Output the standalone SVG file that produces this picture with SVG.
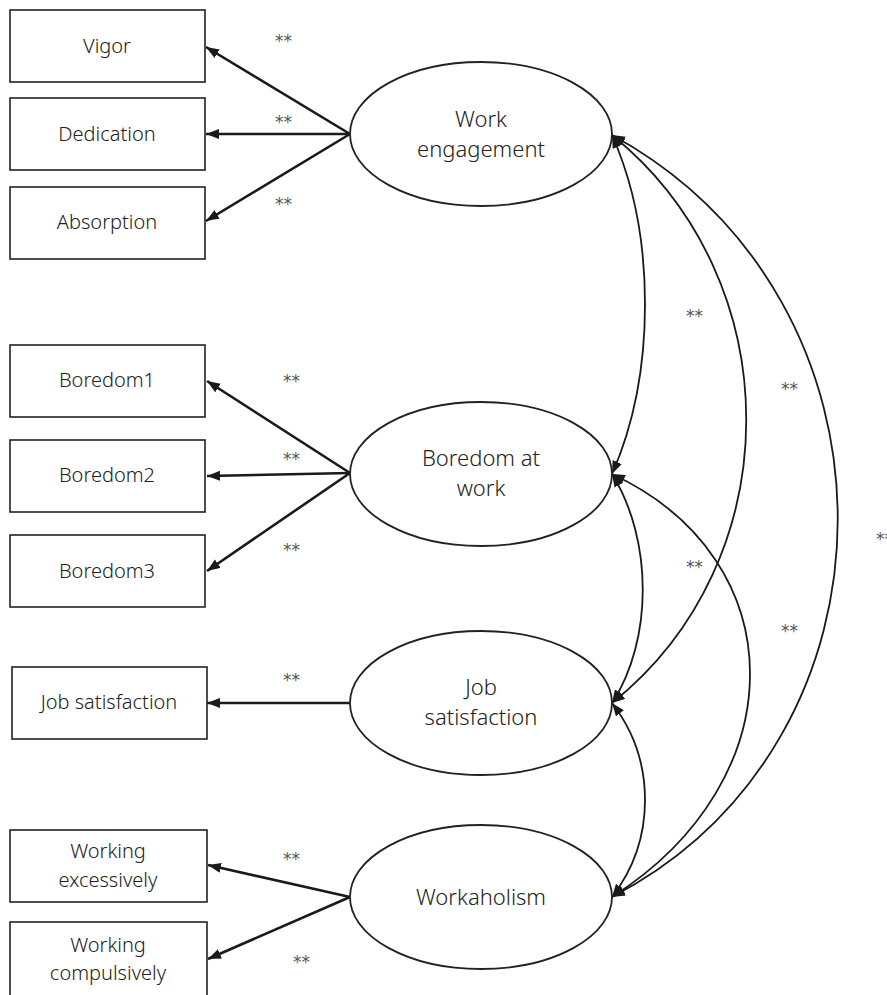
<svg xmlns="http://www.w3.org/2000/svg" width="887" height="995" viewBox="0 0 887 995">
<style>
.box{fill:#fff;stroke:#222;stroke-width:1.6}
.lat{fill:#fff;stroke:#222;stroke-width:1.8}
.t{font-family:"Noto Sans","Noto Sans CJK JP",sans-serif;font-size:20px;fill:#222;text-anchor:middle;font-weight:300}
.lt{font-family:"Noto Sans","Noto Sans CJK JP",sans-serif;font-size:22px;fill:#222;text-anchor:middle;font-weight:300}
.s{font-family:"DejaVu Sans",sans-serif;font-size:17px;fill:#555;text-anchor:start}
.load{stroke:#1a1a1a;stroke-width:2.6;fill:none;marker-end:url(#ah)}
.cov{stroke:#1a1a1a;stroke-width:1.8;fill:none;marker-start:url(#ah2);marker-end:url(#ah2)}
</style>
<defs>
<marker id="ah" markerUnits="userSpaceOnUse" markerWidth="14" markerHeight="12" refX="13" refY="5" orient="auto"><path d="M0,0 L13,5 L0,10 z" fill="#1a1a1a"/></marker>
<marker id="ah2" markerUnits="userSpaceOnUse" markerWidth="14" markerHeight="12" refX="13" refY="5" orient="auto-start-reverse"><path d="M0,0 L13,5 L0,10 z" fill="#1a1a1a"/></marker>
</defs>
<rect width="887" height="995" fill="#fff"/>
<g id="connectors">
<line class="load" x1="350" y1="134" x2="206" y2="47"/>
<line class="load" x1="350" y1="134" x2="206" y2="134"/>
<line class="load" x1="350" y1="134" x2="206" y2="221"/>
<line class="load" x1="350" y1="473" x2="207" y2="381"/>
<line class="load" x1="350" y1="473" x2="207" y2="476"/>
<line class="load" x1="350" y1="473" x2="207" y2="571"/>
<line class="load" x1="350" y1="703" x2="207" y2="703"/>
<line class="load" x1="350" y1="897" x2="208" y2="865"/>
<line class="load" x1="350" y1="897" x2="208" y2="959"/>
<path class="cov" d="M612,135 C656,234 656,374 612,474"/>
<path class="cov" d="M612,135 C791,280 791,560 612,703"/>
<path class="cov" d="M612,135 C913,300 913,740 612,897"/>
<path class="cov" d="M612,474 C653,540 653,640 612,703"/>
<path class="cov" d="M612,474 C796,560 796,780 612,897"/>
<path class="cov" d="M612,703 C656,760 656,840 612,897"/>
</g>
<g id="labels">
<text class="s" x="275" y="47">**</text>
<text class="s" x="275" y="128">**</text>
<text class="s" x="275" y="210">**</text>
<text class="s" x="283" y="387">**</text>
<text class="s" x="283" y="465">**</text>
<text class="s" x="283" y="556">**</text>
<text class="s" x="283" y="686">**</text>
<text class="s" x="283" y="865">**</text>
<text class="s" x="293" y="968">**</text>
<text class="s" x="686" y="322">**</text>
<text class="s" x="781" y="395">**</text>
<text class="s" x="876" y="545">**</text>
<text class="s" x="686" y="573">**</text>
<text class="s" x="781" y="637">**</text>
</g>
<g id="vigor"><rect class="box" x="10" y="10" width="195" height="72"/><text class="t" x="107" y="53">Vigor</text></g>
<g id="dedication"><rect class="box" x="10" y="98" width="195" height="72"/><text class="t" x="107" y="141">Dedication</text></g>
<g id="absorption"><rect class="box" x="10" y="187" width="195" height="72"/><text class="t" x="107" y="229">Absorption</text></g>
<g id="boredom1"><rect class="box" x="10" y="345" width="195" height="72"/><text class="t" x="107" y="387">Boredom1</text></g>
<g id="boredom2"><rect class="box" x="10" y="440" width="195" height="72"/><text class="t" x="107" y="482">Boredom2</text></g>
<g id="boredom3"><rect class="box" x="10" y="535" width="195" height="72"/><text class="t" x="107" y="578">Boredom3</text></g>
<g id="jobsat-box"><rect class="box" x="12" y="667" width="195" height="72"/><text class="t" x="109" y="709">Job satisfaction</text></g>
<g id="working-excessively"><rect class="box" x="10" y="830" width="197" height="72"/><text class="t" x="108" y="858">Working</text><text class="t" x="108" y="887">excessively</text></g>
<g id="working-compulsively"><rect class="box" x="10" y="922" width="197" height="80"/><text class="t" x="108" y="952">Working</text><text class="t" x="108" y="980">compulsively</text></g>
<g id="work-engagement"><ellipse class="lat" cx="481" cy="134" rx="131" ry="72"/><text class="lt" x="481" y="127">Work</text><text class="lt" x="481" y="157">engagement</text></g>
<g id="boredom-at-work"><ellipse class="lat" cx="481" cy="474" rx="131" ry="72"/><text class="lt" x="481" y="466">Boredom at</text><text class="lt" x="481" y="496">work</text></g>
<g id="job-satisfaction"><ellipse class="lat" cx="481" cy="703" rx="131" ry="72"/><text class="lt" x="481" y="695">Job</text><text class="lt" x="481" y="725">satisfaction</text></g>
<g id="workaholism"><ellipse class="lat" cx="481" cy="897" rx="131" ry="72"/><text class="lt" x="481" y="905">Workaholism</text></g>
</svg>
